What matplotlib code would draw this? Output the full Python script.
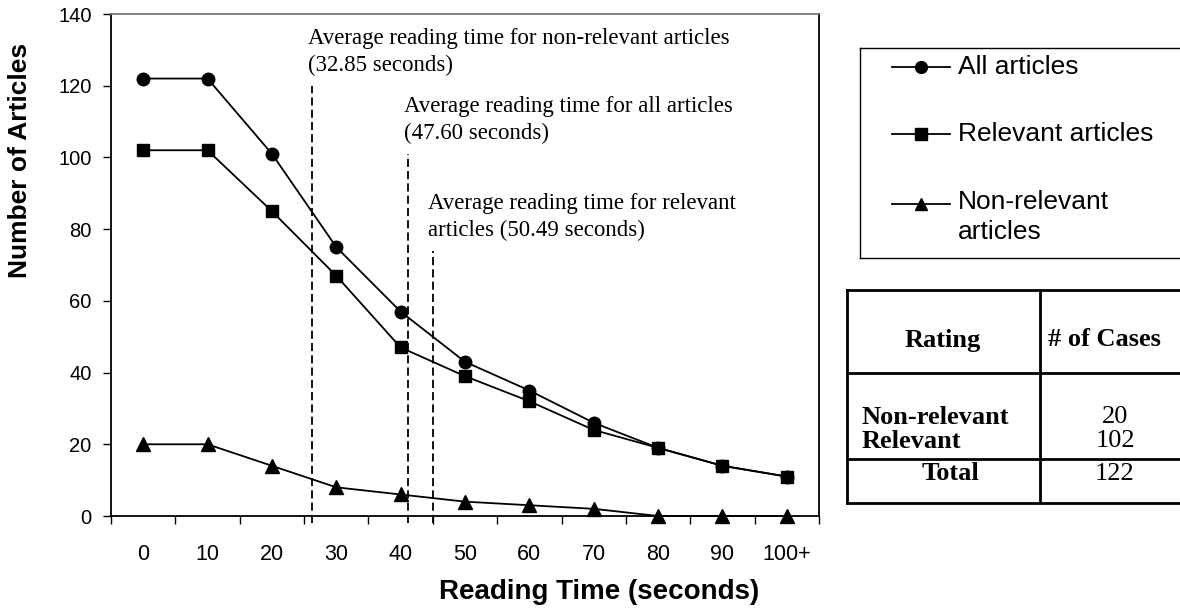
import matplotlib.pyplot as plt
import numpy as np

# reading time buckets (seconds)
categories = ['0', '10', '20', '30', '40', '50', '60', '70', '80', '90', '100+']
all_articles = [122, 122, 101, 75, 57, 43, 35, 26, 19, 14, 11]
relevant = [102, 102, 85, 67, 47, 39, 32, 24, 19, 14, 11]
non_relevant = [20, 20, 14, 8, 6, 4, 3, 2, 0, 0, 0]

# average reading time notes
avg_text = ['Average reading time for non-relevant articles\n(32.85 seconds)',
            'Average reading time for all articles\n(47.60 seconds)',
            'Average reading time for relevant\narticles (50.49 seconds)']
avg_line_x = [2.63, 4.12, 4.50]      # where the dashed markers sit on the bucket axis
avg_line_top = [120, 101, 74]

# summary table
table_ratings = ['Non-relevant', 'Relevant']
table_cases = [20, 102]

sans = 'Liberation Sans'
serif = 'Liberation Serif'
plt.rcParams['font.family'] = sans

W, H = 1180, 609
fig = plt.figure(figsize=(W / 100, H / 100), dpi=100)
ax = fig.add_axes([111 / W, (H - 516) / H, (819 - 111) / W, (516 - 14) / H])

x = np.arange(len(categories))
ax.plot(x, all_articles, color='black', lw=1.3, marker='o', ms=9, label='All articles', clip_on=False, zorder=3)
ax.plot(x, relevant, color='black', lw=1.3, marker='s', ms=9, label='Relevant articles', clip_on=False, zorder=3)
ax.plot(x, non_relevant, color='black', lw=1.3, marker='^', ms=9.5, label='Non-relevant\narticles', clip_on=False, zorder=3)

for lx, top, txt in zip(avg_line_x, avg_line_top, avg_text):
    ax.plot([lx, lx], [-2, top], color='black', lw=1.3, dashes=(4.5, 2.3), clip_on=False)
    ax.text(lx - 0.07, top + 9.4, txt, family=serif, fontsize=16.5, ha='left', va='center',
            linespacing=1.38)

ax.set_xlim(-0.5, len(categories) - 0.5)
ax.set_ylim(0, 140)
ax.set_yticks(np.arange(0, 141, 20))
ax.set_xticks(x)
ax.set_xticklabels(categories)
ax.set_xticks(np.arange(-0.5, len(categories), 1), minor=True)
ax.tick_params(axis='x', which='major', length=0, pad=20, labelsize=15.5)
ax.tick_params(axis='x', which='minor', length=6, width=1, direction='out')
ax.tick_params(axis='y', length=6, width=1, direction='out', pad=8, labelsize=14.5)
for s in ax.spines.values():
    s.set_linewidth(1.3)
ax.spines['top'].set_color('#777777')

ax.set_xlabel('Reading Time (seconds)', fontsize=20, fontweight='bold', va='center')
ax.xaxis.set_label_coords(0.69, -0.151)
ax.set_ylabel('Number of Articles', fontsize=19, fontweight='bold', va='center')
ax.yaxis.set_label_coords(-0.128, 0.709)

# legend box, drawn in its own pixel-unit axes
lax = fig.add_axes([860 / W, (H - 258) / H, 340 / W, 210 / H])
lax.set_xlim(0, 340)
lax.set_ylim(210, 0)
lax.set_xticks([])
lax.set_yticks([])
for s in lax.spines.values():
    s.set_linewidth(1.0)
rows = [19, 86, 156]
for line, yy in zip(ax.get_lines()[:3], rows):
    lax.plot([32, 90], [yy, yy], color='black', lw=1.3)
    lax.plot([61], [yy], color='black', marker=line.get_marker(), ms=8.5)
lax.text(98, 19, 'All articles', fontsize=19, va='center')
lax.text(98, 86, 'Relevant articles', fontsize=19, va='center')
lax.text(98, 154, 'Non-relevant', fontsize=19, va='center')
lax.text(98, 184, 'articles', fontsize=19, va='center')

# table of cases
tax = fig.add_axes([847 / W, (H - 503) / H, 345 / W, 213 / H])
tax.set_xlim(847, 1192)
tax.set_ylim(503, 290)
tax.set_xticks([])
tax.set_yticks([])
for s in tax.spines.values():
    s.set_linewidth(2)
tax.axvline(1040, color='black', lw=2)
tax.axhline(373, color='black', lw=2)
tax.axhline(459, color='black', lw=2)
tax.text(943, 340, 'Rating', family=serif, fontsize=19, fontweight='bold', ha='center', va='center')
tax.text(1104, 340, '# of Cases', family=serif, fontsize=19, fontweight='bold', ha='center', va='center')
for yy, name, n in zip([417, 441], table_ratings, table_cases):
    tax.text(862, yy, name, family=serif, fontsize=19, fontweight='bold', ha='left', va='center')
    tax.text(1115, yy, str(n), family=serif, fontsize=19, ha='center', va='center')
tax.text(950, 474, 'Total', family=serif, fontsize=19, fontweight='bold', ha='center', va='center')
tax.text(1115, 474, str(sum(table_cases)), family=serif, fontsize=19, ha='center', va='center')

fig.savefig('out.png', dpi=100)
